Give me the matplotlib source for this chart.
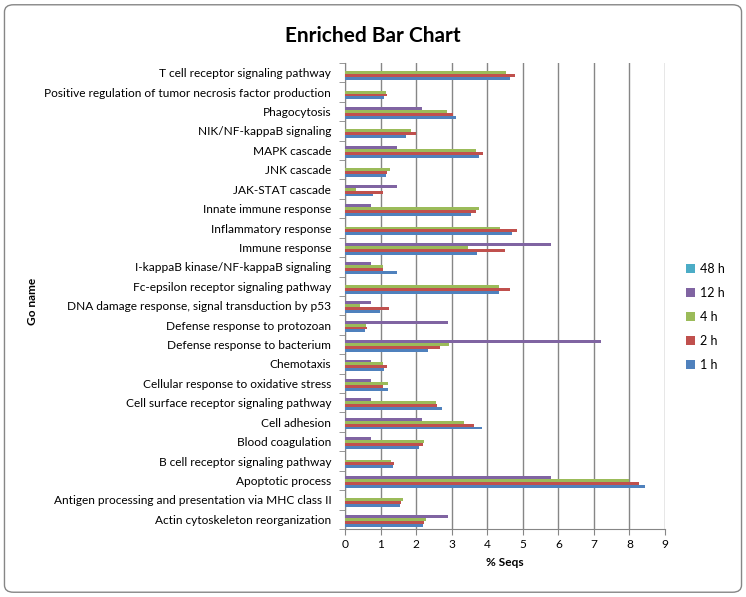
import numpy as np
import matplotlib.pyplot as plt
from matplotlib.patches import FancyBboxPatch

plt.rcParams['font.family'] = ['Lato', 'DejaVu Sans']

# categories listed bottom to top, as drawn
terms = [
    'Actin cytoskeleton reorganization',
    'Antigen processing and presentation via MHC class II',
    'Apoptotic process',
    'B cell receptor signaling pathway',
    'Blood coagulation',
    'Cell adhesion',
    'Cell surface receptor signaling pathway',
    'Cellular response to oxidative stress',
    'Chemotaxis',
    'Defense response to bacterium',
    'Defense response to protozoan',
    'DNA damage response, signal transduction by p53',
    'Fc-epsilon receptor signaling pathway',
    'I-kappaB kinase/NF-kappaB signaling',
    'Immune response',
    'Inflammatory response',
    'Innate immune response',
    'JAK-STAT cascade',
    'JNK cascade',
    'MAPK cascade',
    'NIK/NF-kappaB signaling',
    'Phagocytosis',
    'Positive regulation of tumor necrosis factor production',
    'T cell receptor signaling pathway',
]

h1 = [2.20, 1.54, 8.43, 1.35, 2.09, 3.84, 2.74, 1.22, 1.10, 2.32, 0.55, 0.97,
      4.32, 1.47, 3.71, 4.70, 3.55, 0.80, 1.16, 3.78, 1.72, 3.11, 1.10, 4.64]
h2 = [2.23, 1.58, 8.28, 1.39, 2.20, 3.63, 2.60, 1.08, 1.18, 2.66, 0.63, 1.24,
      4.64, 1.08, 4.49, 4.84, 3.68, 1.08, 1.18, 3.87, 2.00, 3.05, 1.19, 4.79]
h4 = [2.27, 1.64, 8.00, 1.30, 2.23, 3.35, 2.55, 1.20, 1.08, 2.92, 0.58, 0.43,
      4.32, 1.08, 3.45, 4.37, 3.78, 0.32, 1.26, 3.68, 1.85, 2.87, 1.14, 4.53]
h12 = [2.89, 0.00, 5.80, 0.00, 0.72, 2.17, 0.72, 0.72, 0.72, 7.21, 2.89, 0.72,
       0.00, 0.72, 5.80, 0.00, 0.72, 1.46, 0.00, 1.46, 0.00, 2.17, 0.00, 0.00]
h48 = [0.0] * len(terms)

series = [('1 h', h1, '#4F81BD'), ('2 h', h2, '#C0504D'), ('4 h', h4, '#9BBB59'),
          ('12 h', h12, '#8064A2'), ('48 h', h48, '#4BACC6')]

fig = plt.figure(figsize=(7.46, 5.97), dpi=100)
ax = fig.add_axes([0.4625, 0.1139, 0.4289, 0.7806])

y = np.arange(len(terms))
bh = 0.15
for i, (name, vals, col) in enumerate(series):
    ax.barh(y + (i - 2) * bh, vals, height=bh, color=col, label=name, zorder=3)

ax.set_xlim(0, 9)
ax.set_ylim(-0.5, len(terms) - 0.5)
ax.set_xticks(range(10))
ax.set_yticks(y)
ax.set_yticklabels(terms, fontsize=8.6)
ax.set_yticks(np.arange(-0.5, len(terms)), minor=True)
ax.tick_params(axis='y', which='major', length=0, pad=10)
ax.tick_params(axis='y', which='minor', length=4, color='#868686')
ax.tick_params(axis='x', length=4, color='#868686', labelsize=8.6, pad=3)
ax.grid(axis='x', color='#868686', linewidth=1, zorder=0)
for s in ['top', 'right']:
    ax.spines[s].set_visible(False)
for s in ['left', 'bottom']:
    ax.spines[s].set_color('#868686')

ax.set_xlabel('% Seqs', fontsize=8.6, fontweight='bold', labelpad=5)
fig.text(0.044, 0.496, 'Go name', rotation=90, fontsize=8.6, fontweight='bold',
         ha='center', va='center')
fig.text(0.5, 0.94, 'Enriched Bar Chart', fontsize=15, fontweight='bold',
         ha='center', va='center')

handles, labels = ax.get_legend_handles_labels()
ax.legend(handles[::-1], labels[::-1], loc='center left',
          bbox_to_anchor=(1.03, 0.455), frameon=False, fontsize=9,
          handlelength=0.7, handleheight=0.7, handletextpad=0.4,
          labelspacing=0.95)

fig.patches.append(FancyBboxPatch((0.006, 0.008), 0.988, 0.984,
                                  boxstyle='round,pad=0,rounding_size=0.012',
                                  transform=fig.transFigure, fill=False,
                                  edgecolor='#868686', linewidth=1))

fig.savefig('out.png', dpi=100)
